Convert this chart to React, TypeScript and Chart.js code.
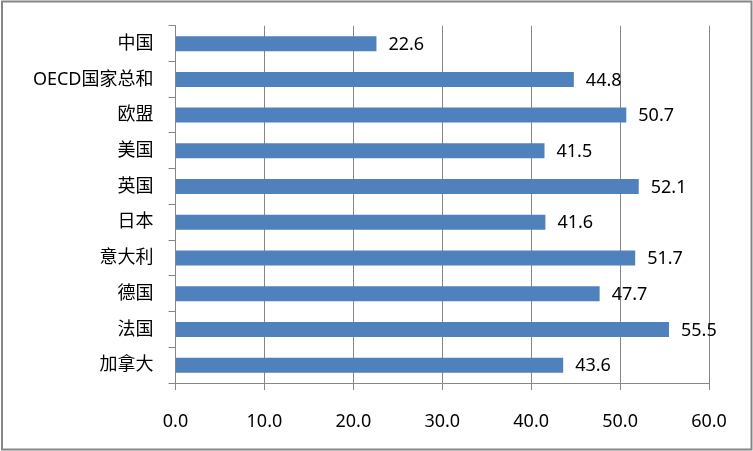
import React, { useEffect, useRef } from "react";
import { Chart, registerables } from "chart.js";

Chart.register(...registerables);

const categories = ["中国", "OECD国家总和", "欧盟", "美国", "英国", "日本", "意大利", "德国", "法国", "加拿大"];
const values = [22.6, 44.8, 50.7, 41.5, 52.1, 41.6, 51.7, 47.7, 55.5, 43.6];
const xTicks = [0, 10, 20, 30, 40, 50, 60];

const FONT = "'Noto Sans', 'Noto Sans CJK SC', sans-serif";

const dataLabels = {
  id: "dataLabels",
  afterDatasetsDraw(chart: any) {
    const ctx = chart.ctx;
    const meta = chart.getDatasetMeta(0);
    ctx.save();
    ctx.font = `18px ${FONT}`;
    ctx.fillStyle = "#000";
    ctx.textAlign = "left";
    ctx.textBaseline = "middle";
    meta.data.forEach((bar: any, i: number) => {
      ctx.fillText(values[i].toFixed(1), bar.x + 12, bar.y + 1);
    });
    ctx.restore();
  },
};

const frame = {
  id: "frame",
  afterDraw(chart: any) {
    const ctx = chart.ctx;
    ctx.save();
    ctx.strokeStyle = "#868686";
    ctx.lineWidth = 2;
    ctx.strokeRect(2, 1.5, chart.width - 3.5, chart.height - 3);
    ctx.restore();
  },
};

export default function App() {
  const ref = useRef<HTMLCanvasElement>(null);
  useEffect(() => {
    document.body.style.margin = "0";
    const chart = new Chart(ref.current!, {
      type: "bar",
      data: {
        labels: categories,
        datasets: [
          {
            data: values,
            backgroundColor: "#4F81BD",
            borderWidth: 0,
            barPercentage: 0.42,
            categoryPercentage: 1,
          },
        ],
      },
      options: {
        indexAxis: "y",
        animation: false,
        responsive: false,
        devicePixelRatio: 1,
        layout: { padding: { top: 23, right: 44, bottom: 0, left: 0 } },
        plugins: { legend: { display: false }, tooltip: { enabled: false } },
        scales: {
          x: {
            min: 0,
            max: 60,
            afterBuildTicks(scale: any) {
              scale.ticks = xTicks.map((v) => ({ value: v }));
            },
            afterFit(scale: any) {
              scale.height = 68;
            },
            ticks: {
              color: "#000",
              font: { family: FONT, size: 18 },
              padding: 21,
              callback: (v: any) => Number(v).toFixed(1),
            },
            grid: { color: "#868686", lineWidth: 1, tickLength: 7 },
            border: { color: "#868686", width: 1 },
          },
          y: {
            afterFit(scale: any) {
              scale.width = 175.5;
            },
            ticks: {
              color: "#000",
              font: { family: FONT, size: 18 },
              padding: 15,
            },
            grid: { drawOnChartArea: false, color: "#868686", tickLength: 7, offset: true },
            border: { color: "#868686", width: 1 },
          },
        },
      },
      plugins: [dataLabels, frame],
    });
    return () => chart.destroy();
  }, []);
  return (
    <div style={{ position: "absolute", left: 0, top: 0 }}>
      <canvas ref={ref} width={753} height={451} style={{ display: "block", width: 753, height: 451 }} />
    </div>
  );
}
